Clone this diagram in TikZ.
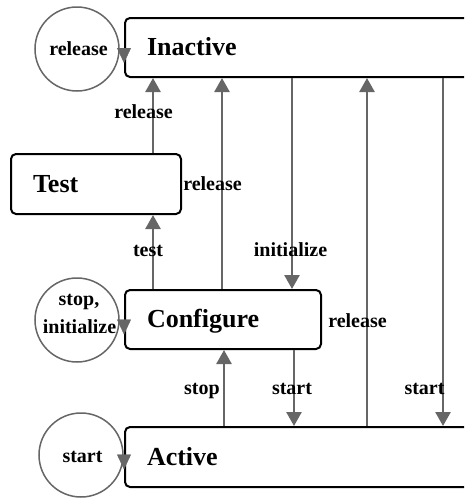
\documentclass[tikz,border=0pt]{standalone}
\usepackage{fontspec}
\setmainfont{Liberation Serif}
\usetikzlibrary{arrows.meta}
\definecolor{edgegray}{HTML}{666666}
\tikzset{
  statebox/.style={draw=black, line width=2pt, rounded corners=5pt, anchor=north west,
    inner xsep=22pt, inner ysep=0pt, align=left,
    font=\fontsize{26}{30}\selectfont\bfseries, text height=18pt, text depth=2pt},
  trans/.style={draw=edgegray, line width=2.6pt, -{Triangle[length=14pt,width=15pt]}},
  lbl/.style={anchor=base, inner sep=0pt, font=\fontsize{20}{24}\selectfont\bfseries},
  loopcirc/.style={circle, draw=edgegray, line width=1.5pt, minimum size=84pt, inner sep=0pt},
  looptip/.style={draw=edgegray, line width=0.4pt, -{Triangle[length=15pt,width=14pt]}}
}
\begin{document}
\begin{tikzpicture}[x=1pt, y=-1pt]
  \useasboundingbox (0,0) rectangle (464,498);
  \clip (0,0) rectangle (464,498);

  % states
  \node[statebox, text width=332pt, minimum height=59pt] (Inactive) at (124,17) {Inactive};
  \node[statebox, text width=126pt, minimum height=60pt] (Test) at (10,153) {Test};
  \node[statebox, text width=152pt, minimum height=59pt] (Configure) at (124,289) {Configure};
  \node[statebox, text width=332pt, minimum height=60pt] (Active) at (124,426) {Active};

  % self loops
  \node[loopcirc] (loopI) at (77,49) {};
  \node[loopcirc] (loopC) at (77,320) {};
  \node[loopcirc] (loopA) at (81,455) {};
  \draw[looptip] (Inactive.west) -- ++(0,15.5);
  \draw[looptip] (Configure.west) -- ++(0,15);
  \draw[looptip] (Active.west) -- ++(0,12.5);
  \node[lbl] (tI) at (78.5,55) {release};
  \node[lbl] (tC1) at (79,305) {stop,};
  \node[lbl] (tC2) at (79.5,333) {initialize};
  \node[lbl] (tA) at (82.5,462) {start};

  % transition columns
  \coordinate (k1) at (153,0);
  \coordinate (k2) at (222,0);
  \coordinate (k3) at (292,0);
  \coordinate (k4) at (367,0);
  \coordinate (k5) at (443,0);
  \coordinate (k6) at (224,0);
  \coordinate (k7) at (294,0);

  \draw[trans] (k1 |- Test.north) -- (k1 |- Inactive.south);
  \draw[trans] (k1 |- Configure.north) -- (k1 |- Test.south);
  \draw[trans] (k2 |- Configure.north) -- (k2 |- Inactive.south);
  \draw[trans] (k3 |- Inactive.south) -- (k3 |- Configure.north);
  \draw[trans] (k4 |- Active.north) -- (k4 |- Inactive.south);
  \draw[trans] (k5 |- Inactive.south) -- (k5 |- Active.north);
  \draw[trans] (k6 |- Active.north) -- (k6 |- Configure.south);
  \draw[trans] (k7 |- Configure.south) -- (k7 |- Active.north);

  % transition labels
  \node[lbl] (l1) at (143.5,118) {release};
  \node[lbl] (l2) at (148,256) {test};
  \node[lbl] (l3) at (212.5,190) {release};
  \node[lbl] (l4) at (290.5,256) {initialize};
  \node[lbl] (l5) at (357.5,327) {release};
  \node[lbl] (l6) at (424.5,394) {start};
  \node[lbl] (l7) at (202,394) {stop};
  \node[lbl] (l8) at (292,394) {start};
\end{tikzpicture}
\end{document}
